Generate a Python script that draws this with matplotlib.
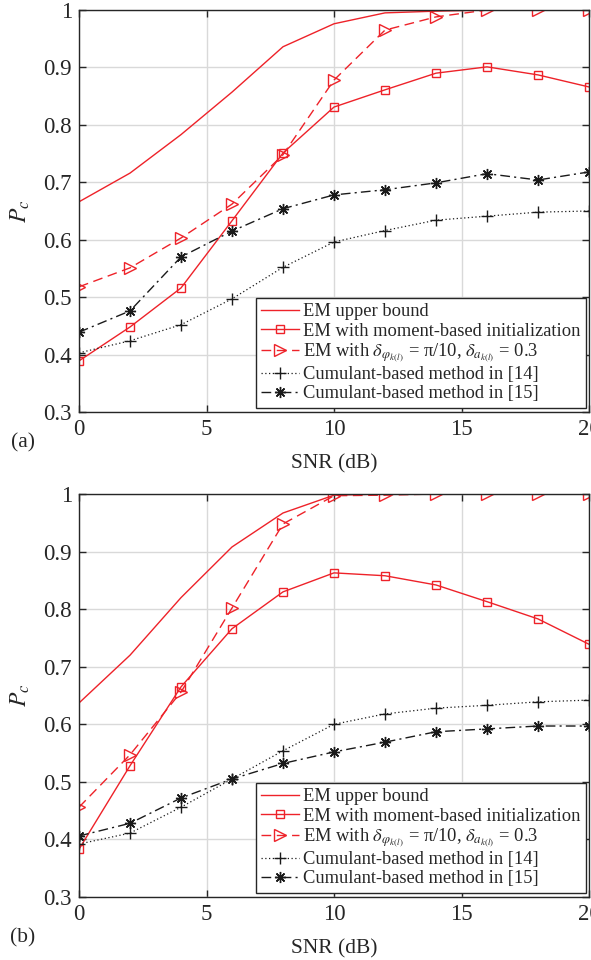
import matplotlib
matplotlib.use("Agg")
import matplotlib.pyplot as plt

plt.rcParams['font.family'] = ['Liberation Serif', 'DejaVu Serif']
plt.rcParams['mathtext.fontset'] = 'stix'

snr = [0, 2, 4, 6, 8, 10, 12, 14, 16, 18, 20]
x_ticks = [0, 5, 10, 15, 20]
y_ticks = [0.3, 0.4, 0.5, 0.6, 0.7, 0.8, 0.9, 1.0]
y_ticklabels = ['0.3', '0.4', '0.5', '0.6', '0.7', '0.8', '0.9', '1']

labels = [
    'EM upper bound',
    'EM with moment-based initialization',
    r'EM with $\delta_{\varphi_{k(l)}}$ = π/10, $\delta_{a_{k(l)}}$ = 0.3',
    'Cumulant-based method in [14]',
    'Cumulant-based method in [15]',
]

# panel (a)
a_upper = [0.666, 0.716, 0.783, 0.857, 0.936, 0.976, 0.995, 0.998, 1.0, 1.0, 1.0]
a_moment = [0.389, 0.448, 0.516, 0.633, 0.751, 0.831, 0.861, 0.890, 0.901, 0.887, 0.866]
a_delta = [0.518, 0.551, 0.603, 0.662, 0.748, 0.878, 0.965, 0.988, 1.0, 1.0, 1.0]
a_cum14 = [0.403, 0.424, 0.452, 0.497, 0.552, 0.596, 0.616, 0.634, 0.641, 0.648, 0.650]
a_cum15 = [0.439, 0.476, 0.570, 0.615, 0.654, 0.678, 0.687, 0.699, 0.715, 0.704, 0.718]

# panel (b)
b_upper = [0.637, 0.720, 0.820, 0.908, 0.967, 0.998, 1.0, 1.0, 1.0, 1.0, 1.0]
b_moment = [0.383, 0.528, 0.665, 0.766, 0.830, 0.863, 0.858, 0.842, 0.813, 0.783, 0.739]
b_delta = [0.456, 0.547, 0.656, 0.802, 0.948, 0.997, 0.998, 1.0, 1.0, 1.0, 1.0]
b_cum14 = [0.392, 0.411, 0.456, 0.505, 0.554, 0.600, 0.618, 0.628, 0.633, 0.639, 0.642]
b_cum15 = [0.406, 0.428, 0.472, 0.505, 0.532, 0.552, 0.569, 0.587, 0.592, 0.597, 0.597]

RED = '#ee2229'
BLACK = '#1a1a1a'
TXT = '#262626'

fig = plt.figure(figsize=(5.91, 9.60), dpi=100)
ax_a = fig.add_axes([79 / 591, 1 - 412 / 960, 510 / 591, 402 / 960])
ax_b = fig.add_axes([79 / 591, 1 - 897 / 960, 510 / 591, 403 / 960])


def draw(ax, upper, moment, delta, cum14, cum15, tag, tag_y, xlab_pad):
    ax.plot(snr, upper, color=RED, lw=1.0, label=labels[0])
    ax.plot(snr, moment, color=RED, lw=1.0, marker='s', ms=5.5, mfc='none',
            mew=1.0, label=labels[1])
    ax.plot(snr, delta, color=RED, lw=1.0, ls=(0, (7, 4)), marker='>', ms=8,
            mfc='none', mew=1.0, label=labels[2])
    ax.plot(snr, cum14, color=BLACK, lw=0.9, ls=(0, (1, 2)), marker='+', ms=9,
            mew=1.0, label=labels[3])
    ax.plot(snr, cum15, color=BLACK, lw=1.0, ls=(0, (7, 3, 1.5, 3)),
            marker=(8, 2, 0), ms=8, mew=1.0, label=labels[4])

    ax.set_xlim(0, 20)
    ax.set_ylim(0.3, 1.0)
    ax.set_xticks(x_ticks)
    ax.set_yticks(y_ticks)
    ax.set_yticklabels(y_ticklabels)
    ax.grid(True, color='#d9d9d9', lw=1.0)
    ax.set_axisbelow(True)
    ax.tick_params(direction='in', top=True, right=True, length=5,
                   width=1.0, labelsize=16.5, colors=TXT, pad=5)
    for s in ax.spines.values():
        s.set_color(TXT)
        s.set_linewidth(1.0)
    ax.set_xlabel('SNR (dB)', fontsize=15.5, color=TXT, labelpad=xlab_pad)
    ax.set_ylabel('$P_c$', fontsize=17, color=TXT, labelpad=8)
    ax.text(-0.11, tag_y, tag, transform=ax.transAxes, fontsize=15.5,
            color=TXT, ha='center', va='center')

    leg = ax.legend(loc='lower right', bbox_to_anchor=(0.994, 0.01),
                    borderaxespad=0, fontsize=13.3, handlelength=2.05,
                    handletextpad=0.2, labelspacing=0.12, borderpad=0.3,
                    fancybox=False, framealpha=1.0, edgecolor=TXT)
    leg.get_frame().set_linewidth(1.0)
    for t in leg.get_texts():
        t.set_color(TXT)


draw(ax_a, a_upper, a_moment, a_delta, a_cum14, a_cum15, '(a)', -0.078, 10)
draw(ax_b, b_upper, b_moment, b_delta, b_cum14, b_cum15, '(b)', -0.102, 10)

fig.savefig('out.png', dpi=100)
